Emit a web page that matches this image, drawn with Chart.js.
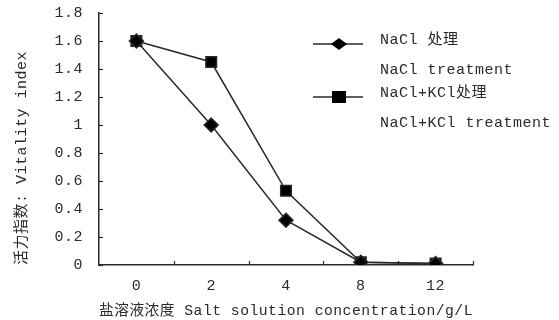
<!DOCTYPE html>
<html>
<head>
<meta charset="utf-8">
<style>
  html, body { margin: 0; padding: 0; background: #fff; }
  #wrap { width: 559px; height: 320px; }
</style>
</head>
<body>
<div id="wrap"><canvas id="myChart" width="559" height="320"></canvas></div>
<script src="https://cdn.jsdelivr.net/npm/chart.js@4"></script>
<script>
// data
var concLabels = ['0', '2', '4', '8', '12'];
var naclValues = [1.6, 1.0, 0.32, 0.02, 0.01];
var kclValues = [1.6, 1.45, 0.53, 0.02, 0.01];
var legendLines = [
  ['NaCl 处理', 'NaCl treatment'],
  ['NaCl+KCl处理', 'NaCl+KCl treatment']
];
var xTitle = '盐溶液浓度 Salt solution concentration/g/L';
var yTitle = '活力指数: Vitality index';

var FONT = "'Liberation Mono', 'Noto Sans CJK SC', monospace";
var INK = '#2a2a2a';

// small inward tick marks + two-line legend
var extras = {
  id: 'extras',
  beforeDraw: function (chart) {
    chart.ctx.letterSpacing = '0.5px';
  },
  afterDraw: function (chart) {
    var ctx = chart.ctx;
    var x = chart.scales.x, y = chart.scales.y;
    var area = chart.chartArea;
    ctx.save();
    ctx.strokeStyle = INK;
    ctx.lineWidth = 1.2;
    // y ticks pointing right
    y.ticks.forEach(function (t) {
      var py = Math.round(y.getPixelForValue(t.value)) + 0.5;
      ctx.beginPath();
      ctx.moveTo(area.left, py);
      ctx.lineTo(area.left + 4, py);
      ctx.stroke();
    });
    // x ticks at category boundaries pointing up
    var step = x.getPixelForValue(1) - x.getPixelForValue(0);
    for (var i = 0; i < concLabels.length; i++) {
      var px = Math.round(x.getPixelForValue(i) + step / 2) + 0.5;
      ctx.beginPath();
      ctx.moveTo(px, area.bottom);
      ctx.lineTo(px, area.bottom - 4);
      ctx.stroke();
    }
    // legend
    var lx = 313, rows = [44, 97];
    ctx.font = '15px ' + FONT;
    ctx.letterSpacing = '0.5px';
    ctx.textBaseline = 'middle';
    chart.data.datasets.forEach(function (ds, k) {
      var ly = rows[k];
      ctx.strokeStyle = INK;
      ctx.lineWidth = 1.5;
      ctx.beginPath();
      ctx.moveTo(lx, ly);
      ctx.lineTo(lx + 50, ly);
      ctx.stroke();
      ctx.fillStyle = '#000';
      if (k === 0) {
        ctx.beginPath();
        ctx.moveTo(lx + 26, ly - 6);
        ctx.lineTo(lx + 34, ly);
        ctx.lineTo(lx + 26, ly + 6);
        ctx.lineTo(lx + 18, ly);
        ctx.closePath();
        ctx.fill();
      } else {
        ctx.fillRect(lx + 19, ly - 6, 14, 12);
      }
      ctx.fillStyle = INK;
      ctx.fillText(legendLines[k][0], 380, ly - 4);
      ctx.fillText(legendLines[k][1], 380, ly + 26);
    });
    ctx.restore();
  }
};

var ctx = document.getElementById('myChart').getContext('2d');
var chart = new Chart(ctx, {
  type: 'line',
  data: {
    labels: concLabels,
    datasets: [{
      label: 'NaCl',
      data: naclValues,
      borderColor: INK,
      borderWidth: 1.5,
      backgroundColor: '#000',
      pointStyle: 'rectRot',
      pointRadius: 7,
      pointHoverRadius: 7,
      tension: 0
    }, {
      label: 'NaCl+KCl',
      data: kclValues,
      borderColor: INK,
      borderWidth: 1.5,
      backgroundColor: '#000',
      pointStyle: 'rect',
      pointRadius: 7.5,
      pointHoverRadius: 7.5,
      tension: 0
    }]
  },
  options: {
    responsive: false,
    animation: false,
    events: [],
    layout: { padding: { left: 0, right: 86, top: 13, bottom: 0 } },
    plugins: { legend: { display: false }, tooltip: { enabled: false } },
    scales: {
      x: {
        offset: true,
        grid: { display: false, drawTicks: false },
        border: { display: true, color: INK, width: 1.5 },
        ticks: { color: INK, font: { family: FONT, size: 15 }, padding: 12, maxRotation: 0 },
        title: { display: true, text: xTitle, align: 'start', color: INK, font: { family: FONT, size: 15 }, padding: { top: 0, bottom: 0 } },
        afterFit: function (s) { s.height = 55; }
      },
      y: {
        min: 0,
        max: 1.8,
        grid: { display: false, drawTicks: false },
        border: { display: true, color: INK, width: 1.5 },
        ticks: {
          stepSize: 0.2,
          color: INK,
          font: { family: FONT, size: 15 },
          padding: 16,
          callback: function (v) { return String(Number(v.toFixed(1))); }
        },
        title: { display: true, text: yTitle, align: 'start', color: INK, font: { family: FONT, size: 15 }, padding: { top: 13, bottom: 0 } },
        afterFit: function (s) { s.width = 99; s.paddingTop = 0; s.paddingBottom = 0; }
      }
    }
  },
  plugins: [extras]
});
</script>
</body>
</html>
